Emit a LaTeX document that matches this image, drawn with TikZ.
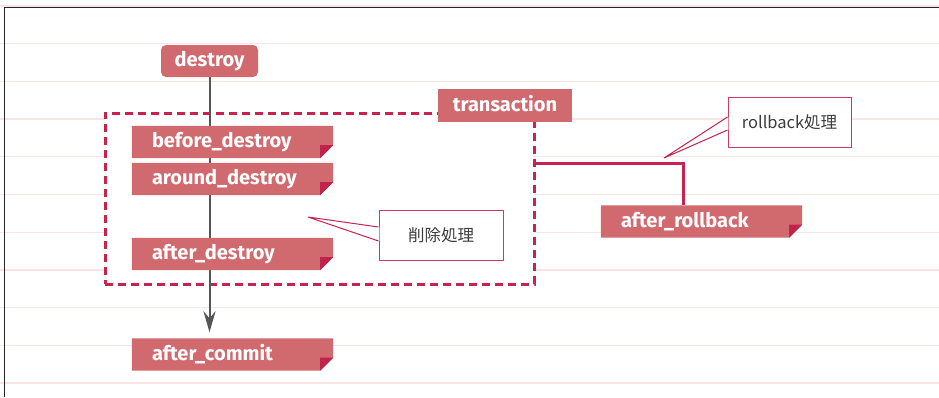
\documentclass[tikz,border=0pt]{standalone}
\usepackage{fontspec}
\newfontfamily\boxfont{Fira Sans}
\newfontfamily\cjk{Noto Sans CJK JP}
\usetikzlibrary{arrows.meta}
\definecolor{boxfill}{HTML}{D06A6F}
\definecolor{foldc}{HTML}{C0244B}
\definecolor{crim}{HTML}{C8224E}
\definecolor{flow}{HTML}{555555}
\definecolor{gridc}{HTML}{F9E4E4}
\definecolor{calltext}{HTML}{3C3C3C}
\definecolor{callborder}{HTML}{CC3A5E}
\pgfdeclarelayer{back}
\pgfdeclarelayer{line}
\pgfdeclarelayer{boxbg}
\pgfsetlayers{back,line,boxbg,main}
\tikzset{
  evbox/.style={rectangle, minimum height=32pt, inner xsep=20pt, inner ysep=0pt,
    text width=161pt, align=left, text=white, text height=13pt, text depth=1.5pt,
    font=\boxfont\bfseries\fontsize{20}{21}\selectfont},
  tagbox/.style={rectangle, fill=boxfill, text=white, inner sep=0pt,
    text height=13pt, text depth=1.5pt,
    font=\boxfont\bfseries\fontsize{20}{21}\selectfont},
  callbox/.style={rectangle, draw=callborder, line width=1pt, fill=white,
    text=calltext, font=\cjk\fontsize{16.5}{18}\selectfont, inner sep=0pt},
  txframe/.style={rectangle, draw=crim, fill=white, line width=3pt,
    dash pattern=on 8pt off 5pt, inner sep=0pt},
  gridline/.style={draw=gridc, line width=1.3pt},
}
\begin{document}
\begin{tikzpicture}[x=1pt,y=-1pt]
\useasboundingbox (0,0) rectangle (939,397);
\begin{pgfonlayer}{back}
  \foreach \k in {0,...,10} {
    \draw[gridline] (0,{6+37.7*\k}) -- (939,{6+37.7*\k});
  }
  \draw[black!85, line width=1pt] (4.3,397) -- (4.3,7.3) -- (939,7.3);
  \node[txframe, minimum width=429pt, minimum height=171pt] (tx) at (319.5,198.5) {};
\end{pgfonlayer}

\node[tagbox, rounded corners=5pt, minimum width=97pt, minimum height=32pt] (ds) at (209.5,61) {destroy};
\node[tagbox, minimum width=134pt, minimum height=33pt] (tr) at (505,105.5) {transaction};

\node[evbox] (bd) at (232.5,142) {before\_destroy};
\node[evbox] (ad) at (232.5,179) {around\_destroy};
\node[evbox] (af) at (232.5,254) {after\_destroy};
\node[evbox] (ac) at (232.5,354.5) {after\_commit};
\node[evbox] (ar) at (701.5,221.5) {after\_rollback};

\begin{pgfonlayer}{boxbg}
  \foreach \n in {bd,ad,af,ac,ar} {
    \fill[boxfill] (\n.north west) -- (\n.north east) -- ([yshift=13pt]\n.south east)
      -- ([xshift=-13pt]\n.south east) -- (\n.south west) -- cycle;
    \fill[foldc] ([xshift=-13pt]\n.south east) -- ([xshift=-13pt,yshift=13pt]\n.south east)
      -- ([yshift=13pt]\n.south east) -- cycle;
  }
\end{pgfonlayer}

\begin{pgfonlayer}{line}
  \draw[flow, line width=2pt, shorten >=6pt,
    -{Stealth[length=21pt, width=12pt, inset=7pt]}]
    (ds.south) -- (ds.south |- ac.north);
  \draw[crim, line width=3pt]
    ([yshift=35.5pt]tx.east) -| ([xshift=-18.5pt]ar.north);
\end{pgfonlayer}

% callouts
\node[callbox, minimum width=124pt, minimum height=50pt] (c1) at (441,235) {削除処理};
\coordinate (t1) at (308,217);
\fill[white] ([xshift=0.8pt,yshift=8pt]c1.west) -- (t1) -- ([xshift=0.8pt,yshift=-6pt]c1.west) -- cycle;
\draw[crim, line width=1pt] ([yshift=8pt]c1.west) -- (t1) -- ([yshift=-6pt]c1.west);

\node[callbox, minimum width=123pt, minimum height=50pt] (c2) at (789.5,122) {rollback処理};
\coordinate (t2) at (664,158);
\fill[white] ([xshift=0.8pt,yshift=5pt]c2.west) -- (t2) -- ([xshift=0.8pt,yshift=-8pt]c2.west) -- cycle;
\draw[crim, line width=1pt] ([yshift=5pt]c2.west) -- (t2) -- ([yshift=-8pt]c2.west);
\end{tikzpicture}
\end{document}
